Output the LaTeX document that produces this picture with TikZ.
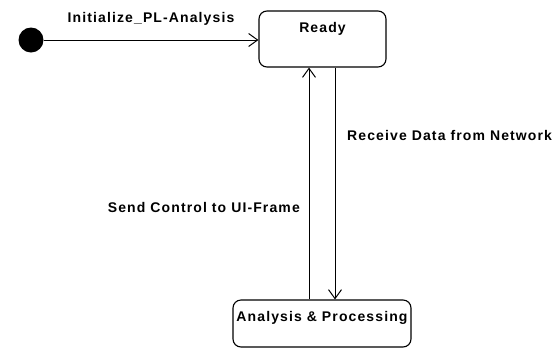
\documentclass[tikz,border=0pt]{standalone}
\usepackage{fontspec}
\setmainfont{Liberation Sans}
\newfontfamily\umlfont[LetterSpace=8]{Liberation Sans}
\usetikzlibrary{arrows.meta}
\tikzset{
  umltext/.style={font=\umlfont\fontsize{14}{16}\bfseries, inner sep=0pt},
  statebox/.style={draw, line width=1.1pt, rounded corners=8pt, inner sep=0pt},
  transition/.style={draw, line width=0.9pt, -{Straight Barb[length=9pt, width=13pt, line width=1pt]}},
  initdot/.style={circle, fill=black, minimum size=25pt, inner sep=0pt}
}
\begin{document}
\begin{tikzpicture}[x=1pt, y=-1pt]
  \useasboundingbox (0,0) rectangle (559,357);
  % states
  \node[initdot] (init) at (31,40) {};
  \node[statebox, minimum width=127pt, minimum height=56pt] (ready) at (322.5,39) {};
  \node[umltext] (readyname) at (322.5,29) {Ready};
  \node[statebox, minimum width=178pt, minimum height=47pt] (proc) at (322,323.5) {};
  \node[umltext] (procname) at (322,318) {Analysis \& Processing};
  % transition anchors on the box edges
  \coordinate (readyL) at ([xshift=-13.5pt]ready.south);
  \coordinate (readyR) at ([xshift=12.5pt]ready.south);
  \coordinate (procL) at ([xshift=-13pt]proc.north);
  \coordinate (procR) at ([xshift=13pt]proc.north);
  % transitions
  \draw[transition] (init) -- (init -| ready.west);
  \draw[transition] (procL) -- (readyL);
  \draw[transition] (readyR) -- (procR);
  % transition labels
  \node[umltext] (lblinit) at (151,19) {Initialize\_PL-Analysis};
  \node[umltext, anchor=west] (lblrecv) at (347,135) {Receive Data from Network};
  \node[umltext, anchor=east] (lblsend) at (300,207) {Send Control to UI-Frame};
\end{tikzpicture}
\end{document}
